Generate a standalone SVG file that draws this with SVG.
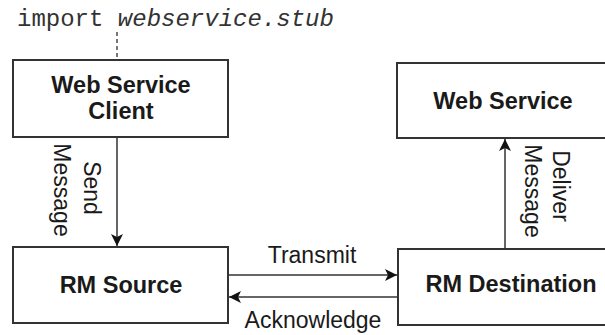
<svg xmlns="http://www.w3.org/2000/svg" width="605" height="335" viewBox="0 0 605 335">
<style>
.box{fill:#fff;stroke:#333;stroke-width:2}
.nl{font-family:"Liberation Sans",Arial,sans-serif;font-weight:bold;font-size:23.5px;fill:#1a1a1a;text-anchor:middle}
.lbl{font-family:"Liberation Sans",Arial,sans-serif;font-size:23px;fill:#1a1a1a}
.code{font-family:"Liberation Mono","Courier New",monospace;font-size:24px;fill:#333}
.conn{stroke:#666;stroke-width:2;fill:none}
</style>
<defs>
<marker id="ah" viewBox="0 0 12 12" refX="12" refY="6" markerWidth="12" markerHeight="12" markerUnits="userSpaceOnUse" orient="auto">
<path d="M0,0 L12,6 L0,12 L3,6 Z" fill="#111"/>
</marker>
</defs>
<text class="code" x="17" y="26">import <tspan font-style="italic">webservice.stub</tspan></text>
<g id="client">
<rect class="box" x="13" y="60" width="215" height="77"/>
<text class="nl" x="121" y="93">Web Service</text>
<text class="nl" x="121" y="119">Client</text>
</g>
<g id="rmsource">
<rect class="box" x="13" y="247" width="215" height="76"/>
<text class="nl" x="121" y="293">RM Source</text>
</g>
<g id="webservice">
<rect class="box" x="397" y="63" width="215" height="75"/>
<text class="nl" x="503" y="109">Web Service</text>
</g>
<g id="rmdest">
<rect class="box" x="398" y="249" width="215" height="76"/>
<text class="nl" x="511" y="292">RM Destination</text>
</g>
<g id="connectors">
<line x1="117" y1="32" x2="117" y2="59" stroke="#777" stroke-width="2" stroke-dasharray="4,3"/>
<line class="conn" x1="117" y1="138" x2="117" y2="246" marker-end="url(#ah)"/>
<line class="conn" x1="229" y1="275" x2="397" y2="275" marker-end="url(#ah)"/>
<line class="conn" x1="397" y1="297" x2="229" y2="297" marker-end="url(#ah)"/>
<line class="conn" x1="505" y1="248" x2="505" y2="139" marker-end="url(#ah)"/>
<text class="lbl" transform="translate(84,188) rotate(90)" text-anchor="middle">Send</text>
<text class="lbl" transform="translate(54,190) rotate(90)" text-anchor="middle">Message</text>
<text class="lbl" transform="translate(553,186) rotate(90)" text-anchor="middle">Deliver</text>
<text class="lbl" transform="translate(525,191) rotate(90)" text-anchor="middle">Message</text>
<text class="lbl" x="312" y="263" text-anchor="middle">Transmit</text>
<text class="lbl" x="313" y="328" text-anchor="middle">Acknowledge</text>
</g>
</svg>
